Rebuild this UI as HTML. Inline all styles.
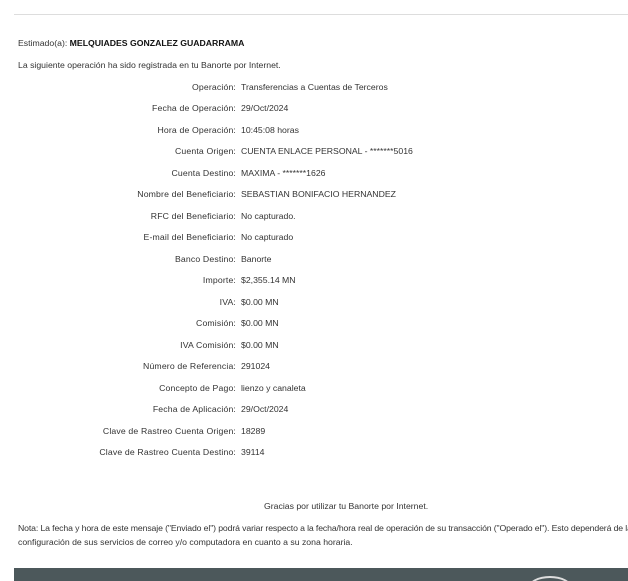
<!DOCTYPE html>
<html><head><meta charset="utf-8"><style>
html,body{margin:0;width:628px;height:581px;overflow:hidden;}
body{background:#fff;position:relative;font-family:"Liberation Sans",sans-serif;font-size:8.7px;color:#333;}
.t{position:absolute;white-space:nowrap;line-height:10px;}
.l{position:absolute;right:392px;white-space:nowrap;line-height:10px;text-align:right;letter-spacing:0.15px;}
.v{position:absolute;left:241px;white-space:nowrap;line-height:10px;}
</style></head><body>
<div style="position:absolute;left:14px;top:14px;width:614px;height:1px;background:#ddd"></div>
<div class="t" style="left:18px;top:38px">Estimado(a): <b style="color:#111">MELQUIADES GONZALEZ GUADARRAMA</b></div>
<div class="t" style="left:18px;top:60px">La siguiente operación ha sido registrada en tu Banorte por Internet.</div>

<div class="l" style="top:82px">Operación:</div><div class="v" style="top:82px">Transferencias a Cuentas de Terceros</div>
<div class="l" style="top:103px">Fecha de Operación:</div><div class="v" style="top:103px">29/Oct/2024</div>
<div class="l" style="top:125px">Hora de Operación:</div><div class="v" style="top:125px">10:45:08 horas</div>
<div class="l" style="top:146px">Cuenta Origen:</div><div class="v" style="top:146px">CUENTA ENLACE PERSONAL - *******5016</div>
<div class="l" style="top:168px">Cuenta Destino:</div><div class="v" style="top:168px">MAXIMA - *******1626</div>
<div class="l" style="top:189px">Nombre del Beneficiario:</div><div class="v" style="top:189px">SEBASTIAN BONIFACIO HERNANDEZ</div>
<div class="l" style="top:211px">RFC del Beneficiario:</div><div class="v" style="top:211px">No capturado.</div>
<div class="l" style="top:232px">E-mail del Beneficiario:</div><div class="v" style="top:232px">No capturado</div>
<div class="l" style="top:254px">Banco Destino:</div><div class="v" style="top:254px">Banorte</div>
<div class="l" style="top:275px">Importe:</div><div class="v" style="top:275px">$2,355.14 MN</div>
<div class="l" style="top:297px">IVA:</div><div class="v" style="top:297px">$0.00 MN</div>
<div class="l" style="top:318px">Comisión:</div><div class="v" style="top:318px">$0.00 MN</div>
<div class="l" style="top:340px">IVA Comisión:</div><div class="v" style="top:340px">$0.00 MN</div>
<div class="l" style="top:361px">Número de Referencia:</div><div class="v" style="top:361px">291024</div>
<div class="l" style="top:383px">Concepto de Pago:</div><div class="v" style="top:383px">lienzo y canaleta</div>
<div class="l" style="top:404px">Fecha de Aplicación:</div><div class="v" style="top:404px">29/Oct/2024</div>
<div class="l" style="top:426px">Clave de Rastreo Cuenta Origen:</div><div class="v" style="top:426px">18289</div>
<div class="l" style="top:447px">Clave de Rastreo Cuenta Destino:</div><div class="v" style="top:447px">39114</div>

<div class="t" style="left:264px;top:501px">Gracias por utilizar tu Banorte por Internet.</div>
<div class="t" style="left:18px;top:523px;letter-spacing:-0.12px">Nota: La fecha y hora de este mensaje ("Enviado el") podrá variar respecto a la fecha/hora real de operación de su transacción ("Operado el"). Esto dependerá de la</div>
<div class="t" style="left:18px;top:537px">configuración de sus servicios de correo y/o computadora en cuanto a su zona horaria.</div>
<div style="position:absolute;left:14px;top:568px;width:614px;height:13px;background:#4c585b;overflow:hidden">
<div style="position:absolute;left:514px;top:8px;width:40px;height:20px;border:2px solid #ddd;border-radius:50%"></div>
</div>
</body></html>
